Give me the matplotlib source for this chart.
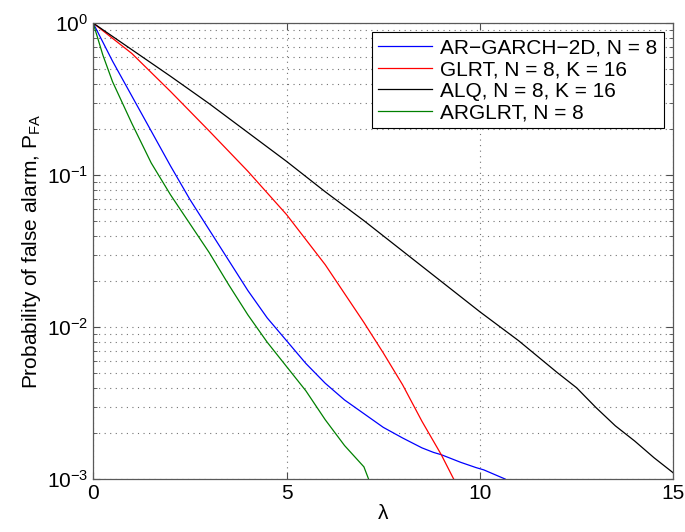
import numpy as np
import matplotlib
matplotlib.use('Agg')
import matplotlib.pyplot as plt
from matplotlib.ticker import LogLocator, NullFormatter

plt.rcParams['font.family'] = ['Liberation Sans', 'DejaVu Sans']
plt.rcParams['mathtext.fontset'] = 'custom'
plt.rcParams['mathtext.rm'] = 'Liberation Sans'

# log10 of P_FA, per threshold lambda
lam_blue = [0, 0.5, 1, 1.5, 2, 2.5, 3, 3.5, 4, 4.5, 5, 5.5, 6, 6.5, 7, 7.5,
            8, 8.5, 8.8, 9, 9.5, 9.9, 10.1, 10.65]
log_blue = [0, -0.25, -0.48, -0.71, -0.94, -1.16, -1.36, -1.56, -1.76, -1.94,
            -2.09, -2.24, -2.37, -2.48, -2.57, -2.66, -2.73, -2.795, -2.825,
            -2.84, -2.89, -2.925, -2.94, -3.0]

lam_red = [0, 1, 2, 3, 4, 5, 6, 7, 7.5, 8, 8.5, 9, 9.32]
log_red = [0, -0.2, -0.45, -0.71, -0.975, -1.26, -1.59, -1.97, -2.17, -2.38,
           -2.62, -2.84, -3.0]

lam_black = [0, 1, 2, 3, 4, 5, 6, 7, 8, 9, 10, 11, 12, 12.5, 13, 13.5, 14,
             14.5, 15]
log_black = [0, -0.175, -0.35, -0.53, -0.72, -0.91, -1.11, -1.30, -1.50, -1.70,
             -1.90, -2.09, -2.30, -2.40, -2.53, -2.65, -2.75, -2.86, -2.96]

lam_green = [0, 0.25, 0.5, 1, 1.5, 2, 2.5, 3, 3.5, 4, 4.5, 5, 5.5, 6, 6.5, 7,
             7.12]
log_green = [0, -0.21, -0.385, -0.66, -0.92, -1.13, -1.32, -1.51, -1.72, -1.92,
             -2.10, -2.26, -2.42, -2.61, -2.78, -2.92, -3.0]

labels = ['AR\u2212GARCH\u22122D, N = 8', 'GLRT, N = 8, K = 16',
          'ALQ, N = 8, K = 16', 'ARGLRT, N = 8']

fig = plt.figure(figsize=(6.85, 5.32), dpi=100)
ax = fig.add_axes([0.136, 0.0996, 0.847, 0.857])

ax.semilogy(lam_blue, 10 ** np.array(log_blue), color=(0, 0, 1), lw=0.9, label=labels[0])
ax.semilogy(lam_red, 10 ** np.array(log_red), color=(1, 0, 0), lw=0.9, label=labels[1])
ax.semilogy(lam_black, 10 ** np.array(log_black), color='k', lw=0.9, label=labels[2])
ax.semilogy(lam_green, 10 ** np.array(log_green), color=(0, 0.5, 0), lw=0.9, label=labels[3])

ax.set_xlim(0, 15)
ax.set_ylim(1e-3, 1)
ax.set_xticks([0, 5, 10, 15])
ax.yaxis.set_major_locator(LogLocator(base=10, numticks=10))
ax.yaxis.set_minor_locator(LogLocator(base=10, subs=np.arange(2, 10), numticks=20))
ax.yaxis.set_minor_formatter(NullFormatter())

ax.grid(True, which='major', axis='both', linestyle=(0, (1, 4)), color='0.45', lw=0.8)
ax.grid(True, which='minor', axis='y', linestyle=(0, (1, 4)), color='0.45', lw=0.8)

ax.tick_params(which='both', direction='in', top=True, right=True, labelsize=15,
               color='0.3')
ax.tick_params(which='major', length=5)
ax.tick_params(which='minor', length=3)
for s in ax.spines.values():
    s.set_color('0.35')
    s.set_linewidth(0.9)

ax.set_xlabel('\u03bb', fontsize=15, labelpad=1)
ax.set_ylabel(r'Probability of false alarm, P$_{\mathregular{FA}}$', fontsize=15, labelpad=3)

leg = ax.legend(loc='upper right', fontsize=15, handlelength=2.6, handletextpad=0.4,
                borderaxespad=0.45, labelspacing=0.12, borderpad=0.3,
                fancybox=False, framealpha=1, edgecolor='k')
leg.get_frame().set_linewidth(0.8)

fig.savefig('out.png', dpi=100)
